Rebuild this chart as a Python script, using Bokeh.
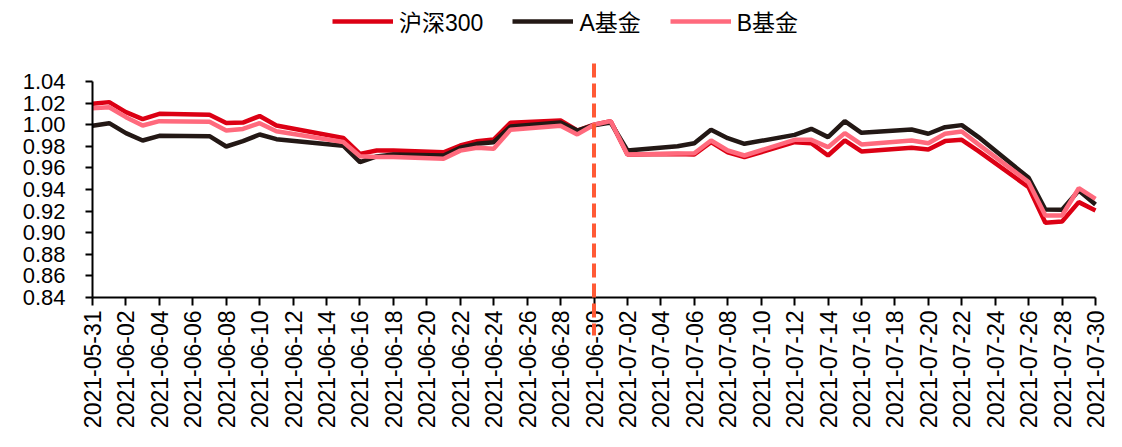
import math
import pandas as pd
from bokeh.plotting import figure
from bokeh.models import (Range1d, FixedTicker, DatetimeTickFormatter, Legend, LegendItem,
                          Arrow, NumeralTickFormatter)
from bokeh.embed import file_html
from bokeh.resources import INLINE

dates = ["2021-05-31", "2021-06-01", "2021-06-02", "2021-06-03", "2021-06-04",
         "2021-06-07", "2021-06-08", "2021-06-09", "2021-06-10", "2021-06-11",
         "2021-06-15", "2021-06-16", "2021-06-17", "2021-06-18",
         "2021-06-21", "2021-06-22", "2021-06-23", "2021-06-24", "2021-06-25",
         "2021-06-28", "2021-06-29", "2021-06-30", "2021-07-01", "2021-07-02",
         "2021-07-05", "2021-07-06", "2021-07-07", "2021-07-08", "2021-07-09",
         "2021-07-12", "2021-07-13", "2021-07-14", "2021-07-15", "2021-07-16",
         "2021-07-19", "2021-07-20", "2021-07-21", "2021-07-22", "2021-07-23",
         "2021-07-26", "2021-07-27", "2021-07-28", "2021-07-29", "2021-07-30"]

hs300 = [1.0194, 1.0209, 1.0116, 1.0051, 1.0101,
         1.0092, 1.0015, 1.0020, 1.0080, 0.9993,
         0.9877, 0.9730, 0.9761, 0.9760,
         0.9745, 0.9807, 0.9848, 0.9863, 1.0017,
         1.0039, 0.9946, 1.0000, 1.0033, 0.9724,
         0.9728, 0.9724, 0.9838, 0.9745, 0.9700,
         0.9838, 0.9829, 0.9715, 0.9854, 0.9752,
         0.9786, 0.9770, 0.9848, 0.9860, 0.9755,
         0.9421, 0.9092, 0.9104, 0.9283, 0.9206]

fund_a = [0.9990, 1.0014, 0.9922, 0.9854, 0.9897,
          0.9894, 0.9798, 0.9848, 0.9909, 0.9866,
          0.9805, 0.9653, 0.9706, 0.9724,
          0.9715, 0.9786, 0.9823, 0.9838, 0.9983,
          1.0020, 0.9946, 0.9995, 1.0020, 0.9761,
          0.9800, 0.9829, 0.9953, 0.9875, 0.9823,
          0.9906, 0.9962, 0.9885, 1.0033, 0.9925,
          0.9956, 0.9916, 0.9977, 0.9996, 0.9885,
          0.9508, 0.9215, 0.9212, 0.9390, 0.9261]

fund_b = [1.0153, 1.0162, 1.0070, 0.9993, 1.0033,
          1.0027, 0.9946, 0.9961, 1.0014, 0.9940,
          0.9840, 0.9708, 0.9700, 0.9702,
          0.9684, 0.9760, 0.9786, 0.9777, 0.9953,
          0.9990, 0.9910, 1.0000, 1.0033, 0.9724,
          0.9733, 0.9736, 0.9854, 0.9761, 0.9715,
          0.9860, 0.9860, 0.9792, 0.9922, 0.9817,
          0.9854, 0.9829, 0.9916, 0.9937, 0.9818,
          0.9468, 0.9159, 0.9159, 0.9412, 0.9314]

series_names = ["沪深300", "A基金", "B基金"]
series_colors = ["#DC0014", "#231815", "#FF6A7D"]
marker_date = "2021-06-30"
y_ticks = [0.84, 0.86, 0.88, 0.90, 0.92, 0.94, 0.96, 0.98, 1.00, 1.02, 1.04]

x = pd.to_datetime(dates)
x_start = pd.Timestamp("2021-05-31")
x_end = pd.Timestamp("2021-07-30")
x_ticks = pd.date_range(x_start, x_end, freq="2D")

def ms(ts):
    return pd.Timestamp(ts).value / 1e6

FONT = "'Liberation Sans', 'Noto Sans CJK SC'"

W, H = 1120, 440
PX = 1080.0                    # pixels per unit of y
PXD = (1095 - 92) / 60.0       # pixels per day
Y0 = 0.84
y_lo = Y0 - (H - 297) / PX
y_hi = Y0 + 297 / PX
x_lo = x_start - pd.Timedelta(days=92 / PXD)
x_hi = x_end + pd.Timedelta(days=(W - 1095) / PXD)

p = figure(width=W, height=H, x_axis_type="datetime", output_backend="svg",
           toolbar_location=None,
           x_range=Range1d(x_lo, x_hi),
           y_range=Range1d(y_lo, y_hi),
           min_border_left=0, min_border_right=0, min_border_top=0, min_border_bottom=0)
p.outline_line_color = None
p.grid.visible = False
p.background_fill_color = "white"
p.border_fill_color = "white"

renderers = []
for vals, col in zip([hs300, fund_a, fund_b], series_colors):
    r = p.line(x, vals, line_color=col, line_width=4.5)
    renderers.append(r)

# vertical dashed marker
p.add_layout(Arrow(end=None, x_start=ms(marker_date), x_end=ms(marker_date),
                   y_start=Y0 + (297 - 63) / PX, y_end=Y0 - 38 / PX,
                   line_color="#FF5A36", line_width=4, line_dash="14 6"))

# axes
xa = p.xaxis[0]
xa.fixed_location = Y0
xa.bounds = (ms(x_start), ms(x_end))
xa.ticker = FixedTicker(ticks=[ms(t) for t in x_ticks])
xa.formatter = DatetimeTickFormatter(days="%Y-%m-%d", months="%Y-%m-%d", years="%Y-%m-%d",
                                     hours="%Y-%m-%d", hourmin="%Y-%m-%d")
xa.major_label_orientation = math.pi / 2
xa.major_label_text_font = FONT
xa.major_label_text_font_size = "23px"
xa.major_label_text_color = "black"
xa.major_tick_out = 8
xa.major_tick_in = 0
xa.minor_tick_out = 0
xa.minor_tick_in = 0
xa.major_tick_line_width = 2
xa.axis_line_width = 2
xa.axis_line_color = "black"
xa.major_tick_line_color = "black"
xa.major_label_standoff = 5

ya = p.yaxis[0]
ya.fixed_location = ms(x_start)
ya.ticker = FixedTicker(ticks=y_ticks)
ya.formatter = NumeralTickFormatter(format="0.00")
ya.bounds = (0.84, 1.04)
ya.major_label_text_font = FONT
ya.major_label_text_font_size = "22px"
ya.major_label_text_color = "black"
ya.major_tick_out = 7
ya.major_tick_in = 0
ya.minor_tick_out = 0
ya.minor_tick_in = 0
ya.major_tick_line_width = 2
ya.axis_line_width = 2
ya.axis_line_color = "black"
ya.major_tick_line_color = "black"
ya.major_label_standoff = 20

legend = Legend(items=[LegendItem(label=n, renderers=[r]) for n, r in zip(series_names, renderers)],
                orientation="horizontal", location=(332, H - 38),
                label_text_font=FONT, label_text_font_size="23px", label_text_color="black",
                glyph_width=61, glyph_height=24, label_height=24, label_standoff=6,
                spacing=29, padding=0, margin=0,
                border_line_alpha=0, background_fill_alpha=0)
p.add_layout(legend, "center")

open("out.html", "w").write(file_html(p, INLINE))
